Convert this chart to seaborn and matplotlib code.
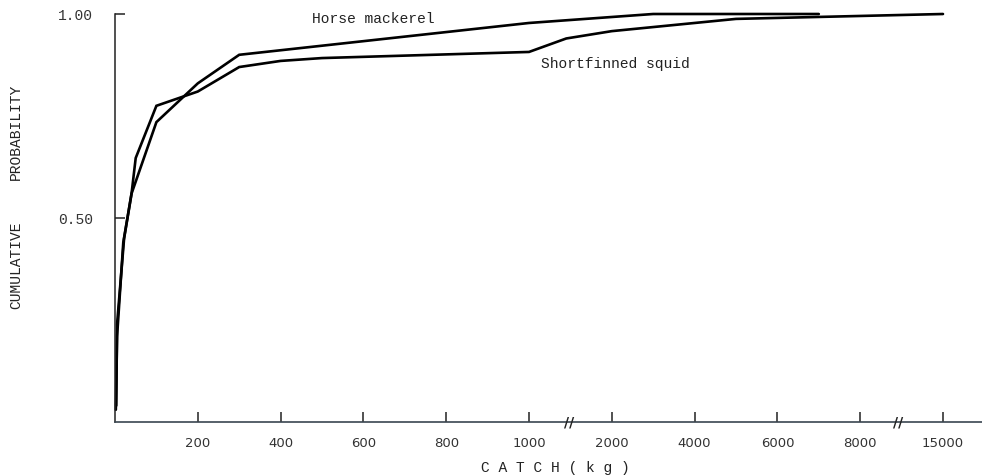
import numpy as np
import pandas as pd
import matplotlib
matplotlib.use("Agg")
import matplotlib.pyplot as plt
import seaborn as sns

# ---- data ----
horse_kg = [2, 5, 20, 40, 100, 200, 300, 1000, 3000, 7000]
horse_p = [0.03, 0.21, 0.44, 0.56, 0.735, 0.83, 0.90, 0.978, 1.0, 1.0]

squid_kg = [3, 5, 22, 40, 50, 100, 200, 300, 400, 500, 1000, 1450, 2000, 5000, 15000]
squid_p = [0.04, 0.24, 0.45, 0.56, 0.647, 0.775, 0.81, 0.87, 0.885, 0.892,
           0.907, 0.94, 0.958, 0.988, 1.0]

x_ticks = [200, 400, 600, 800, 1000, 2000, 4000, 6000, 8000, 15000]
x_tick_labels = ["200", "400", "600", "800", "1000", "2000", "4000", "6000", "8000", "15000"]
y_ticks = [0.5, 1.0]
y_tick_labels = ["0.50", "1.00"]
breaks_kg = [1480, 11220]

# piecewise (broken) axis scale
_kg = [0, 1000, 2000, 8000, 15000, 22000]
_u = [0, 5, 6, 9, 10, 11]


def fwd(x):
    return np.interp(x, _kg, _u)


def inv(u):
    return np.interp(u, _u, _kg)


sns.set_theme(style="white")
mono = ["Liberation Mono", "DejaVu Sans Mono"]
plt.rcParams["font.family"] = mono

df = pd.concat([
    pd.DataFrame({"kg": horse_kg, "p": horse_p, "species": "Horse mackerel"}),
    pd.DataFrame({"kg": squid_kg, "p": squid_p, "species": "Shortfinned squid"}),
])

fig = plt.figure(figsize=(9.82, 4.77), dpi=100)
ax = fig.add_axes([115 / 982, 1 - 423 / 477, 867 / 982, 408 / 477])
ax.set_xscale("function", functions=(fwd, inv))

sns.lineplot(data=df, x="kg", y="p", units="species", estimator=None,
             color="black", linewidth=1.9, ax=ax, legend=False, sort=False)
for ln in ax.lines:
    ln.set_clip_on(False)
    ln.set_solid_joinstyle("miter")

ax.set_xlim(0, inv(867 / 82.8))
ax.set_ylim(0, 1.0)

for s in ["top", "right"]:
    ax.spines[s].set_visible(False)
ax.spines["left"].set_color("#222222")
ax.spines["left"].set_linewidth(1.1)
ax.spines["bottom"].set_color("#3a4650")
ax.spines["bottom"].set_linewidth(1.2)

ax.set_xticks(x_ticks)
ax.set_xticklabels(x_tick_labels, fontfamily=["DejaVu Sans"], fontsize=9.5, color="#333333")
ax.set_yticks(y_ticks)
ax.set_yticklabels(y_tick_labels, fontsize=10.5, color="#333333")
ax.tick_params(axis="x", direction="in", length=7, width=1.1, color="#222222", pad=10, bottom=True)
ax.tick_params(axis="y", direction="in", length=7, width=1.1, color="#222222", pad=16, left=True)
ax.minorticks_off()
ax.set_xlabel("")
ax.set_ylabel("")

# axis breaks
for b in breaks_kg:
    ax.text(b, 0, "//", transform=ax.get_xaxis_transform(), ha="center", va="center",
            fontsize=10, color="#222222", fontweight="bold", fontfamily=["DejaVu Sans"],
            clip_on=False, zorder=5)

# labels
ax.text(inv(3.1), 1.0 - (19 - 15) / 409 * 1, "", fontsize=1)
fig.text(373 / 982, 1 - 19 / 477, "Horse mackerel", ha="center", va="center",
         fontsize=10.5, color="#222222")
fig.text(615 / 982, 1 - 64 / 477, "Shortfinned squid", ha="center", va="center",
         fontsize=10.5, color="#222222")
fig.text(555 / 982, 1 - 468 / 477, "C A T C H ( k g )", ha="center", va="center",
         fontsize=10.5, color="#222222")
fig.text(16 / 982, 1 - 265 / 477, "CUMULATIVE", ha="center", va="center",
         rotation=90, fontsize=10.5, color="#222222")
fig.text(16 / 982, 1 - 132 / 477, "PROBABILITY", ha="center", va="center",
         rotation=90, fontsize=10.5, color="#222222")

fig.savefig("out.png", dpi=100, facecolor="white")
